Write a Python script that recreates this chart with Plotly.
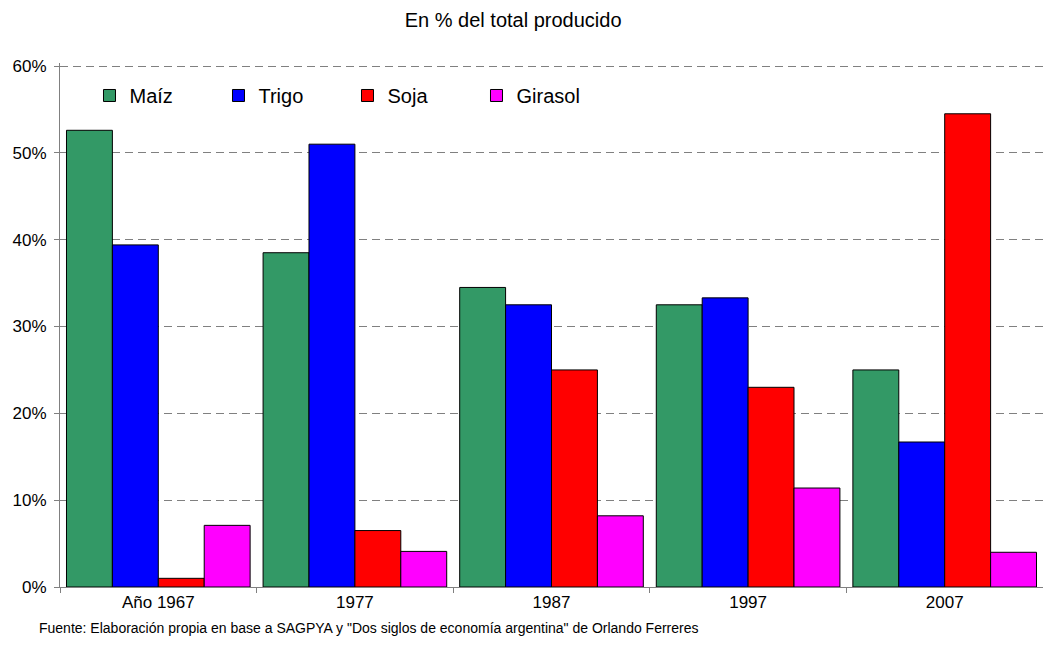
import plotly.graph_objects as go

# Share of total grain production by crop (%)
years = ["Año 1967", "1977", "1987", "1997", "2007"]
maiz = [52.6, 38.5, 34.5, 32.5, 25.0]
trigo = [39.4, 51.0, 32.5, 33.3, 16.7]
soja = [1.0, 6.5, 25.0, 23.0, 54.5]
girasol = [7.1, 4.1, 8.2, 11.4, 4.0]
y_ticks = [0, 10, 20, 30, 40, 50, 60]

series = [
    ("Maíz", maiz, "#339966"),
    ("Trigo", trigo, "#0000FF"),
    ("Soja", soja, "#FF0000"),
    ("Girasol", girasol, "#FF00FF"),
]

font_family = "Liberation Sans, Arial, sans-serif"

fig = go.Figure()
for name, vals, color in series:
    fig.add_trace(go.Bar(
        x=years, y=vals, name=name,
        marker=dict(color=color, line=dict(color="black", width=1)),
    ))

fig.update_layout(
    width=1043, height=646,
    margin=dict(l=60, r=0, t=63, b=59),
    paper_bgcolor="white", plot_bgcolor="white",
    font=dict(family=font_family, color="black", size=17),
    barmode="group", bargap=0.066, bargroupgap=0,
    title=dict(text="En % del total producido", x=0.492, xanchor="center",
               y=1 - 20 / 646, yanchor="middle", font=dict(size=20)),
    legend=dict(orientation="h", x=0.03, y=0.938, xanchor="left", yanchor="middle",
                font=dict(size=20), entrywidth=84, entrywidthmode="pixels",
                bgcolor="rgba(0,0,0,0)", itemclick=False),
    showlegend=True,
)

fig.update_xaxes(
    showline=True, linecolor="#808080", linewidth=1,
    ticks="outside", tickson="boundaries", ticklen=5, tickcolor="#808080",
    showgrid=False, tickfont=dict(size=17),
)
fig.update_yaxes(
    range=[0, 60.35], tickvals=y_ticks, ticktext=[f"{v}%" for v in y_ticks],
    showline=True, linecolor="#808080", linewidth=1,
    ticks="outside", ticklen=5, tickcolor="#808080", ticklabelstandoff=4,
    showgrid=True, gridcolor="#808080", gridwidth=1, griddash="8px,5px",
    zeroline=False, tickfont=dict(size=17),
)

fig.add_annotation(
    text='Fuente: Elaboración propia en base a SAGPYA y "Dos siglos de economía argentina" de Orlando Ferreres',
    xref="paper", yref="paper", x=(37 - 60) / 983, y=(590 - 631) / 524,
    xanchor="left", yanchor="middle", showarrow=False, font=dict(size=14),
)

fig.write_html("out.html")
